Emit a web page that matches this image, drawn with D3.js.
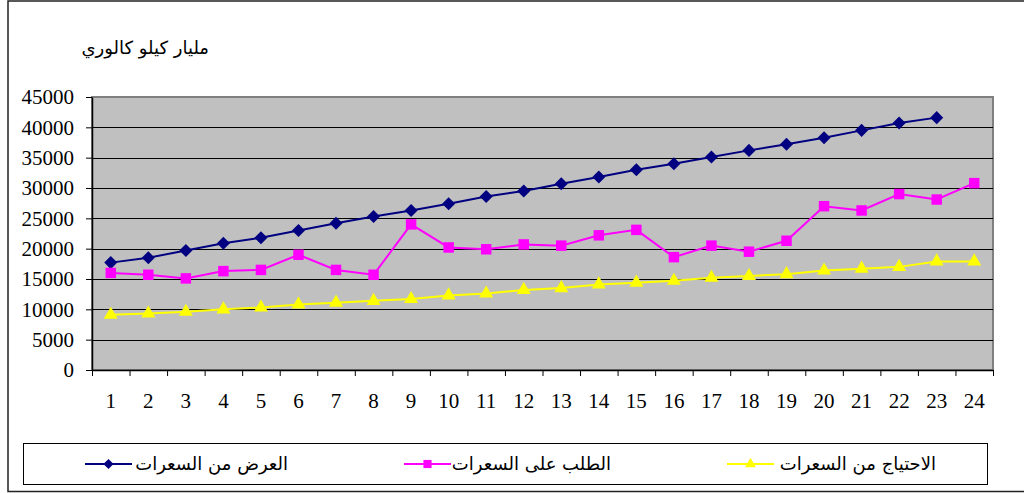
<!DOCTYPE html>
<html>
<head>
<meta charset="utf-8">
<script src="https://cdn.jsdelivr.net/npm/d3@7"></script>
<style>
  body { margin: 0; background: #fff; }
  svg { display: block; }
  .axis text { font-family: "Liberation Serif", "Times New Roman", serif; font-size: 21px; fill: #000; }
  .axis path, .axis line { stroke: #000; }
  .ar { font-family: "DejaVu Sans", sans-serif; font-size: 18px; fill: #000; }
</style>
</head>
<body>
<div id="chart"></div>
<script>
// years 1..24
const periods = d3.range(1, 25);
const yTicks = [0, 5000, 10000, 15000, 20000, 25000, 30000, 35000, 40000, 45000];

// العرض من السعرات (supply) - no value for 24
const supply = [17700, 18500, 19700, 20900, 21800, 23000, 24200, 25300, 26300, 27400, 28600, 29500,
  30700, 31800, 33000, 34000, 35100, 36200, 37200, 38300, 39500, 40700, 41600, null];
// الطلب على السعرات (demand)
const demand = [16000, 15700, 15100, 16300, 16500, 19000, 16500, 15700, 24000, 20200, 19900, 20700,
  20500, 22200, 23100, 18600, 20500, 19500, 21300, 27000, 26300, 29000, 28100, 30800];
// الاحتياج من السعرات (need)
const need = [9100, 9300, 9600, 10000, 10300, 10800, 11100, 11400, 11700, 12300, 12600, 13200,
  13500, 14100, 14400, 14700, 15200, 15500, 15800, 16400, 16700, 17000, 17900, 17900];

const seriesNames = ['العرض من السعرات', 'الطلب على السعرات', 'الاحتياج من السعرات'];
const yLabel = 'مليار كيلو كالوري';

const series = [
  { name: seriesNames[0], values: supply, color: '#000080', symbol: d3.symbolSquare, size: 85, rotate: 45 },
  { name: seriesNames[1], values: demand, color: '#FF00FF', symbol: d3.symbolSquare, size: 110, rotate: 0 },
  { name: seriesNames[2], values: need, color: '#FFFF00', symbol: d3.symbolTriangle, size: 85, rotate: 0 },
];

const W = 1024, H = 493;
const margin = { top: 97, right: 31, bottom: 123, left: 92 };

const svg = d3.select('#chart').append('svg')
  .attr('width', W)
  .attr('height', H);

// outer frame (cut off on the right)
svg.append('rect')
  .attr('x', 8).attr('y', 1)
  .attr('width', W + 10).attr('height', H - 2.5)
  .attr('fill', 'none')
  .attr('stroke', '#222')
  .attr('stroke-width', 1.5);

const x = d3.scaleBand()
  .domain(periods)
  .range([margin.left, W - margin.right]);

const xEdges = d3.scaleLinear()
  .domain([0, periods.length])
  .range([margin.left, W - margin.right]);

const y = d3.scaleLinear()
  .domain([0, 45000])
  .range([H - margin.bottom, margin.top]);

// plot background
svg.append('rect')
  .attr('x', margin.left)
  .attr('y', margin.top)
  .attr('width', x.range()[1] - margin.left)
  .attr('height', y(0) - margin.top)
  .attr('fill', '#C0C0C0')
  .attr('stroke', '#808080')
  .attr('stroke-width', 2);

// grid lines
svg.append('g')
  .selectAll('line')
  .data(yTicks.filter(d => d > 0 && d < 45000))
  .join('line')
  .attr('x1', margin.left)
  .attr('x2', x.range()[1])
  .attr('y1', d => Math.round(y(d)) + 0.5)
  .attr('y2', d => Math.round(y(d)) + 0.5)
  .attr('stroke', '#000')
  .attr('stroke-width', 1.2);

const serif = '"Liberation Serif", "Times New Roman", serif';

// y axis
svg.append('g')
  .attr('class', 'axis')
  .attr('transform', `translate(${margin.left},0)`)
  .call(d3.axisLeft(y).tickValues(yTicks).tickFormat(d3.format('d'))
    .tickSize(6).tickPadding(12).tickSizeOuter(0))
  .attr('font-family', serif)
  .attr('font-size', 21)
  .call(g => g.select('.domain').attr('stroke-width', 1.5));

// x axis ticks at category edges
svg.append('g')
  .attr('class', 'axis')
  .attr('transform', `translate(0,${y(0)})`)
  .call(d3.axisBottom(xEdges).ticks(periods.length).tickSize(6).tickFormat('').tickSizeOuter(0))
  .call(g => g.select('.domain').attr('stroke-width', 1.5));

// x labels
svg.append('g')
  .attr('class', 'axis')
  .attr('transform', `translate(0,${y(0)})`)
  .call(d3.axisBottom(x).tickSize(0).tickPadding(23))
  .attr('font-family', serif)
  .attr('font-size', 21)
  .call(g => g.select('.domain').remove());

// y axis title
svg.append('text')
  .attr('class', 'ar')
  .attr('x', 209)
  .attr('y', 54)
  .attr('text-anchor', 'start')
  .attr('direction', 'rtl')
  .text(yLabel);

const cx = d => x(d) + x.bandwidth() / 2;

const line = d3.line()
  .defined(d => d.v != null)
  .x(d => cx(d.p))
  .y(d => y(d.v));

const sg = svg.selectAll('g.series')
  .data(series)
  .join('g')
  .attr('class', 'series');

sg.append('path')
  .attr('d', s => line(s.values.map((v, i) => ({ p: periods[i], v }))))
  .attr('fill', 'none')
  .attr('stroke', s => s.color)
  .attr('stroke-width', 2);

sg.each(function (s) {
  d3.select(this).selectAll('path.mark')
    .data(s.values.map((v, i) => ({ p: periods[i], v })).filter(d => d.v != null))
    .join('path')
    .attr('class', 'mark')
    .attr('transform', d => `translate(${cx(d.p)},${y(d.v)}) rotate(${s.rotate})`)
    .attr('d', d3.symbol(s.symbol, s.size))
    .attr('fill', s.color);
});

// legend
const legend = svg.append('g');
legend.append('rect')
  .attr('x', 23.5).attr('y', 443.5)
  .attr('width', 964).attr('height', 41)
  .attr('fill', '#fff')
  .attr('stroke', '#000')
  .attr('stroke-width', 1);

const legendPos = [
  { lx: 85, tx: 288 },
  { lx: 404, tx: 611 },
  { lx: 727, tx: 936 },
];

const li = legend.selectAll('g.item')
  .data(series)
  .join('g')
  .attr('class', 'item');

li.append('line')
  .attr('x1', (d, i) => legendPos[i].lx)
  .attr('x2', (d, i) => legendPos[i].lx + 47)
  .attr('y1', 464).attr('y2', 464)
  .attr('stroke', d => d.color)
  .attr('stroke-width', 2);

li.append('path')
  .attr('transform', (d, i) => `translate(${legendPos[i].lx + 23.5},464) rotate(${d.rotate})`)
  .attr('d', d => d3.symbol(d.symbol, d.size * 0.6)())
  .attr('fill', d => d.color);

li.append('text')
  .attr('class', 'ar')
  .attr('x', (d, i) => legendPos[i].tx)
  .attr('y', 470)
  .attr('text-anchor', 'start')
  .attr('direction', 'rtl')
  .text(d => d.name);
</script>
</body>
</html>
